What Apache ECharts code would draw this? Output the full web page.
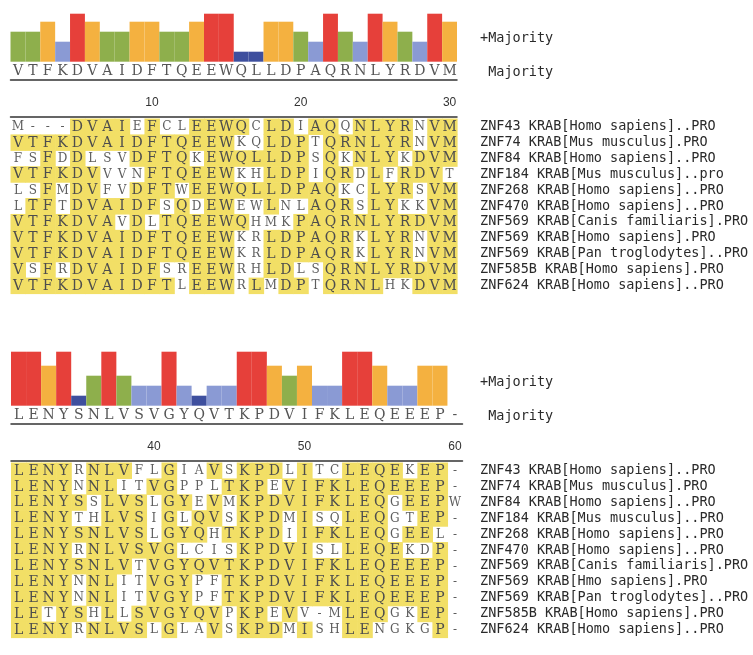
<!DOCTYPE html>
<html><head><meta charset="utf-8">
<script src="https://cdn.jsdelivr.net/npm/echarts@6/dist/echarts.min.js"></script>
<style>html,body{margin:0;padding:0;background:#fff}#c{width:753px;height:655px}</style>
</head><body><div id="c"></div>
<script>
// ---------- data ----------
const majority1 = "VTFKDVAIDFTQEEWQLLDPAQRNLYRDVM".split("");
const majority2 = "LENYSNLVSVGYQVTKPDVIFKLEQEEEP-".split("");
const columns1 = [1,2,3,4,5,6,7,8,9,10,11,12,13,14,15,16,17,18,19,20,21,22,23,24,25,26,27,28,29,30];
const columns2 = [31,32,33,34,35,36,37,38,39,40,41,42,43,44,45,46,47,48,49,50,51,52,53,54,55,56,57,58,59,60];
const tickLabels1 = [10,20,30];
const tickLabels2 = [40,50,60];
// bar heights (conservation level)
const conservation1 = [30,30,40,20,48,40,30,30,40,40,30,30,40,48,48,10,10,40,40,30,20,48,30,20,48,40,30,20,48,40];
const conservation2 = [54,54,40,54,10,30,54,30,20,20,54,20,10,20,20,54,54,40,30,40,20,20,54,54,40,20,20,40,40,null];
const names1 = [
  "ZNF43 KRAB[Homo sapiens]..PRO",
  "ZNF74 KRAB[Mus musculus].PRO",
  "ZNF84 KRAB[Homo sapiens]..PRO",
  "ZNF184 KRAB[Mus musculus]..pro",
  "ZNF268 KRAB[Homo sapiens]..PRO",
  "ZNF470 KRAB[Homo sapiens]..PRO",
  "ZNF569 KRAB[Canis familiaris].PRO",
  "ZNF569 KRAB[Homo sapiens].PRO",
  "ZNF569 KRAB[Pan troglodytes]..PRO",
  "ZNF585B KRAB[Homo sapiens].PRO",
  "ZNF624 KRAB[Homo sapiens]..PRO"
];
const names2 = [
  "ZNF43 KRAB[Homo sapiens]..PRO",
  "ZNF74 KRAB[Mus musculus].PRO",
  "ZNF84 KRAB[Homo sapiens]..PRO",
  "ZNF184 KRAB[Mus musculus]..PRO",
  "ZNF268 KRAB[Homo sapiens]..PRO",
  "ZNF470 KRAB[Homo sapiens]..PRO",
  "ZNF569 KRAB[Canis familiaris].PRO",
  "ZNF569 KRAB[Hmo sapiens].PRO",
  "ZNF569 KRAB[Pan troglodytes]..PRO",
  "ZNF585B KRAB[Homo sapiens].PRO",
  "ZNF624 KRAB[Homo sapiens]..PRO"
];
const seqs1 = [
  "M---DVAIEFCLEEWQCLDIAQQNLYRNVM",
  "VTFKDVAIDFTQEEWKQLDPTQRNLYRNVM",
  "FSFDDLSVDFTQKEWQLLDPSQKNLYKDVM",
  "VTFKDVVVNFTQEEWKHLDPIQRDLFRDVT",
  "LSFMDVFVDFTWEEWQLLDPAQKCLYRSVM",
  "LTFTDVAIDFSQDEWEWLNLAQRSLYKKVM",
  "VTFKDVAVDLTQEEWQHMKPAQRNLYRDVM",
  "VTFKDVAIDFTQEEWKRLDPAQRKLYRNVM",
  "VTFKDVAIDFTQEEWKRLDPAQRKLYRNVM",
  "VSFRDVAIDFSREEWRHLDLSQRNLYRDVM",
  "VTFKDVAIDFTLEEWRLMDPTQRNLHKDVM"
];
const seqs2 = [
  "LENYRNLVFLGIAVSKPDLITCLEQEKEP-",
  "LENYNNLITVGPPLTKPEVIFKLEQEEEP-",
  "LENYSSLVSLGYEVMKPDVIFKLEQGEEPW",
  "LENYTHLVSIGLQVSKPDMISQLEQGTEP-",
  "LENYSNLVSLGYQHTKPDIIFKLEQGEEL-",
  "LENYRNLVSVGLCISKPDVISLLEQEKDP-",
  "LENYSNLVTVGYQVTKPDVIFKLEQEEEP-",
  "LENYNNLITVGYPFTKPDVIFKLEQEEEP-",
  "LENYNNLITVGYPFTKPDVIFKLEQEEEP-",
  "LETYSHLLSVGYQVPKPEVV-MLEQGKEP-",
  "LENYRNLVSLGLAVSKPDMISHLENGKGP-"
];

// ---------- styles ----------
const YELLOW = '#F2DF66';
const BAR_COLORS = {red:'#E6403A', orange:'#F4B140', green:'#8EAF4C', blue:'#8A9AD4', dark:'#3E4F9E'};
function barColor(v){
  if (v >= 45) return BAR_COLORS.red;
  if (v >= 35) return BAR_COLORS.orange;
  if (v >= 25) return BAR_COLORS.green;
  if (v >= 15) return BAR_COLORS.blue;
  return BAR_COLORS.dark;
}
const SERIF = '"DejaVu Serif", "Liberation Serif", serif';
const MONO = '"DejaVu Sans Mono", "Liberation Mono", monospace';

const blocks = [
  {maj: majority1, cols: columns1, ticks: tickLabels1, cons: conservation1, names: names1, seqs: seqs1, dy: 0, left: 10.5, width: 446.5},
  {maj: majority2, cols: columns2, ticks: tickLabels2, cons: conservation2, names: names2, seqs: seqs2, dy: 344, left: 11, width: 451.5}
];

const grid = [], xAxis = [], yAxis = [], series = [], graphic = [];
blocks.forEach((b, k) => {
  const g0 = grid.length;
  grid.push({left: b.left, width: b.width, top: 7.7 + b.dy, height: 54});
  grid.push({left: b.left, width: b.width, top: 80 + b.dy, height: 37});
  grid.push({left: b.left, width: b.width, top: 118.5 + b.dy, height: 175});
  const x0 = xAxis.length, y0 = yAxis.length;
  // bar x
  xAxis.push({gridIndex: g0, type: 'category', data: b.maj, show: false});
  // ruler top (majority letters)
  xAxis.push({gridIndex: g0 + 1, type: 'category', data: b.maj, position: 'top',
    axisLine: {onZero: false, lineStyle: {color: '#333', width: 1.5}},
    axisTick: {inside: true, length: 6, alignWithLabel: true, lineStyle: {color: '#333', width: 1.2},
      interval: (i) => b.ticks.indexOf(b.cols[i]) >= 0},
    axisLabel: {interval: 0, margin: 2, fontFamily: SERIF, fontSize: 14, color: '#555'}});
  // ruler bottom (numbers)
  xAxis.push({gridIndex: g0 + 1, type: 'category', data: b.cols, position: 'bottom',
    axisLine: {onZero: false, lineStyle: {color: '#333', width: 1.5}},
    axisTick: {inside: true, length: 5, alignWithLabel: true, lineStyle: {color: '#333', width: 1.2},
      interval: (i) => b.ticks.indexOf(b.cols[i]) >= 0},
    axisLabel: {inside: true, interval: 0, margin: 8, fontFamily: '"Liberation Sans", Arial, sans-serif', fontSize: 12, color: '#333',
      formatter: (v) => b.ticks.indexOf(+v) >= 0 ? String(v) : ''}});
  // seq x
  xAxis.push({gridIndex: g0 + 2, type: 'category', data: b.cols, show: false});

  yAxis.push({gridIndex: g0, type: 'value', min: 0, max: 54, show: false});
  yAxis.push({gridIndex: g0 + 1, type: 'value', min: 0, max: 1, show: false});
  yAxis.push({gridIndex: g0 + 2, type: 'category', data: b.names, inverse: true, position: 'right',
    axisLine: {show: false}, axisTick: {show: false}, splitLine: {show: false},
    axisLabel: {interval: 0, margin: 480 - (b.left + b.width), fontFamily: MONO, fontSize: 13.5, color: '#2a2a2a'}});

  series.push({type: 'bar', xAxisIndex: x0, yAxisIndex: y0, data: b.cons, barWidth: '100%', barCategoryGap: 0,
    itemStyle: {color: (p) => barColor(p.value)}, silent: true});

  const hi = [], all = [], letters = [], matchFlags = [];
  b.seqs.forEach((s, r) => {
    s.split('').forEach((ch, c) => {
      const m = ch !== '-' && ch === b.maj[c];
      if (m) hi.push([c, r]);
      all.push([c, r]);
      letters.push(ch);
      matchFlags.push(m);
    });
  });
  series.push({type: 'custom', xAxisIndex: x0 + 3, yAxisIndex: y0 + 2, data: hi, silent: true,
    renderItem: (params, api) => {
      const p = api.coord([api.value(0), api.value(1)]);
      const sz = api.size([1, 1]);
      return {type: 'rect', shape: {x: p[0] - sz[0] / 2, y: p[1] - sz[1] / 2, width: sz[0] + 0.6, height: sz[1] + 0.6},
        style: {fill: YELLOW}};
    }});
  series.push({type: 'custom', xAxisIndex: x0 + 3, yAxisIndex: y0 + 2, data: all, silent: true,
    renderItem: (params, api) => {
      const p = api.coord([api.value(0), api.value(1)]);
      const ch = letters[params.dataIndex];
      const m = matchFlags[params.dataIndex];
      return {type: 'text', x: p[0], y: p[1] + 0.5,
        style: {text: ch, fill: m ? '#4d4d4d' : '#5e5e5e', font: (m ? 14 : 12) + 'px ' + SERIF,
          align: 'center', verticalAlign: 'middle'}};
    }});

  graphic.push({type: 'text', x: 480, y: 38.5 + b.dy, silent: true,
    style: {text: '+Majority', fill: '#2a2a2a', font: '13.5px ' + MONO, verticalAlign: 'middle'}});
  graphic.push({type: 'text', x: 480, y: 72.5 + b.dy, silent: true,
    style: {text: ' Majority', fill: '#2a2a2a', font: '13.5px ' + MONO, verticalAlign: 'middle'}});
});

const chart = echarts.init(document.getElementById('c'), null, {renderer: 'canvas'});
chart.setOption({animation: false, backgroundColor: '#fff', grid, xAxis, yAxis, series, graphic});
</script>
</body></html>
